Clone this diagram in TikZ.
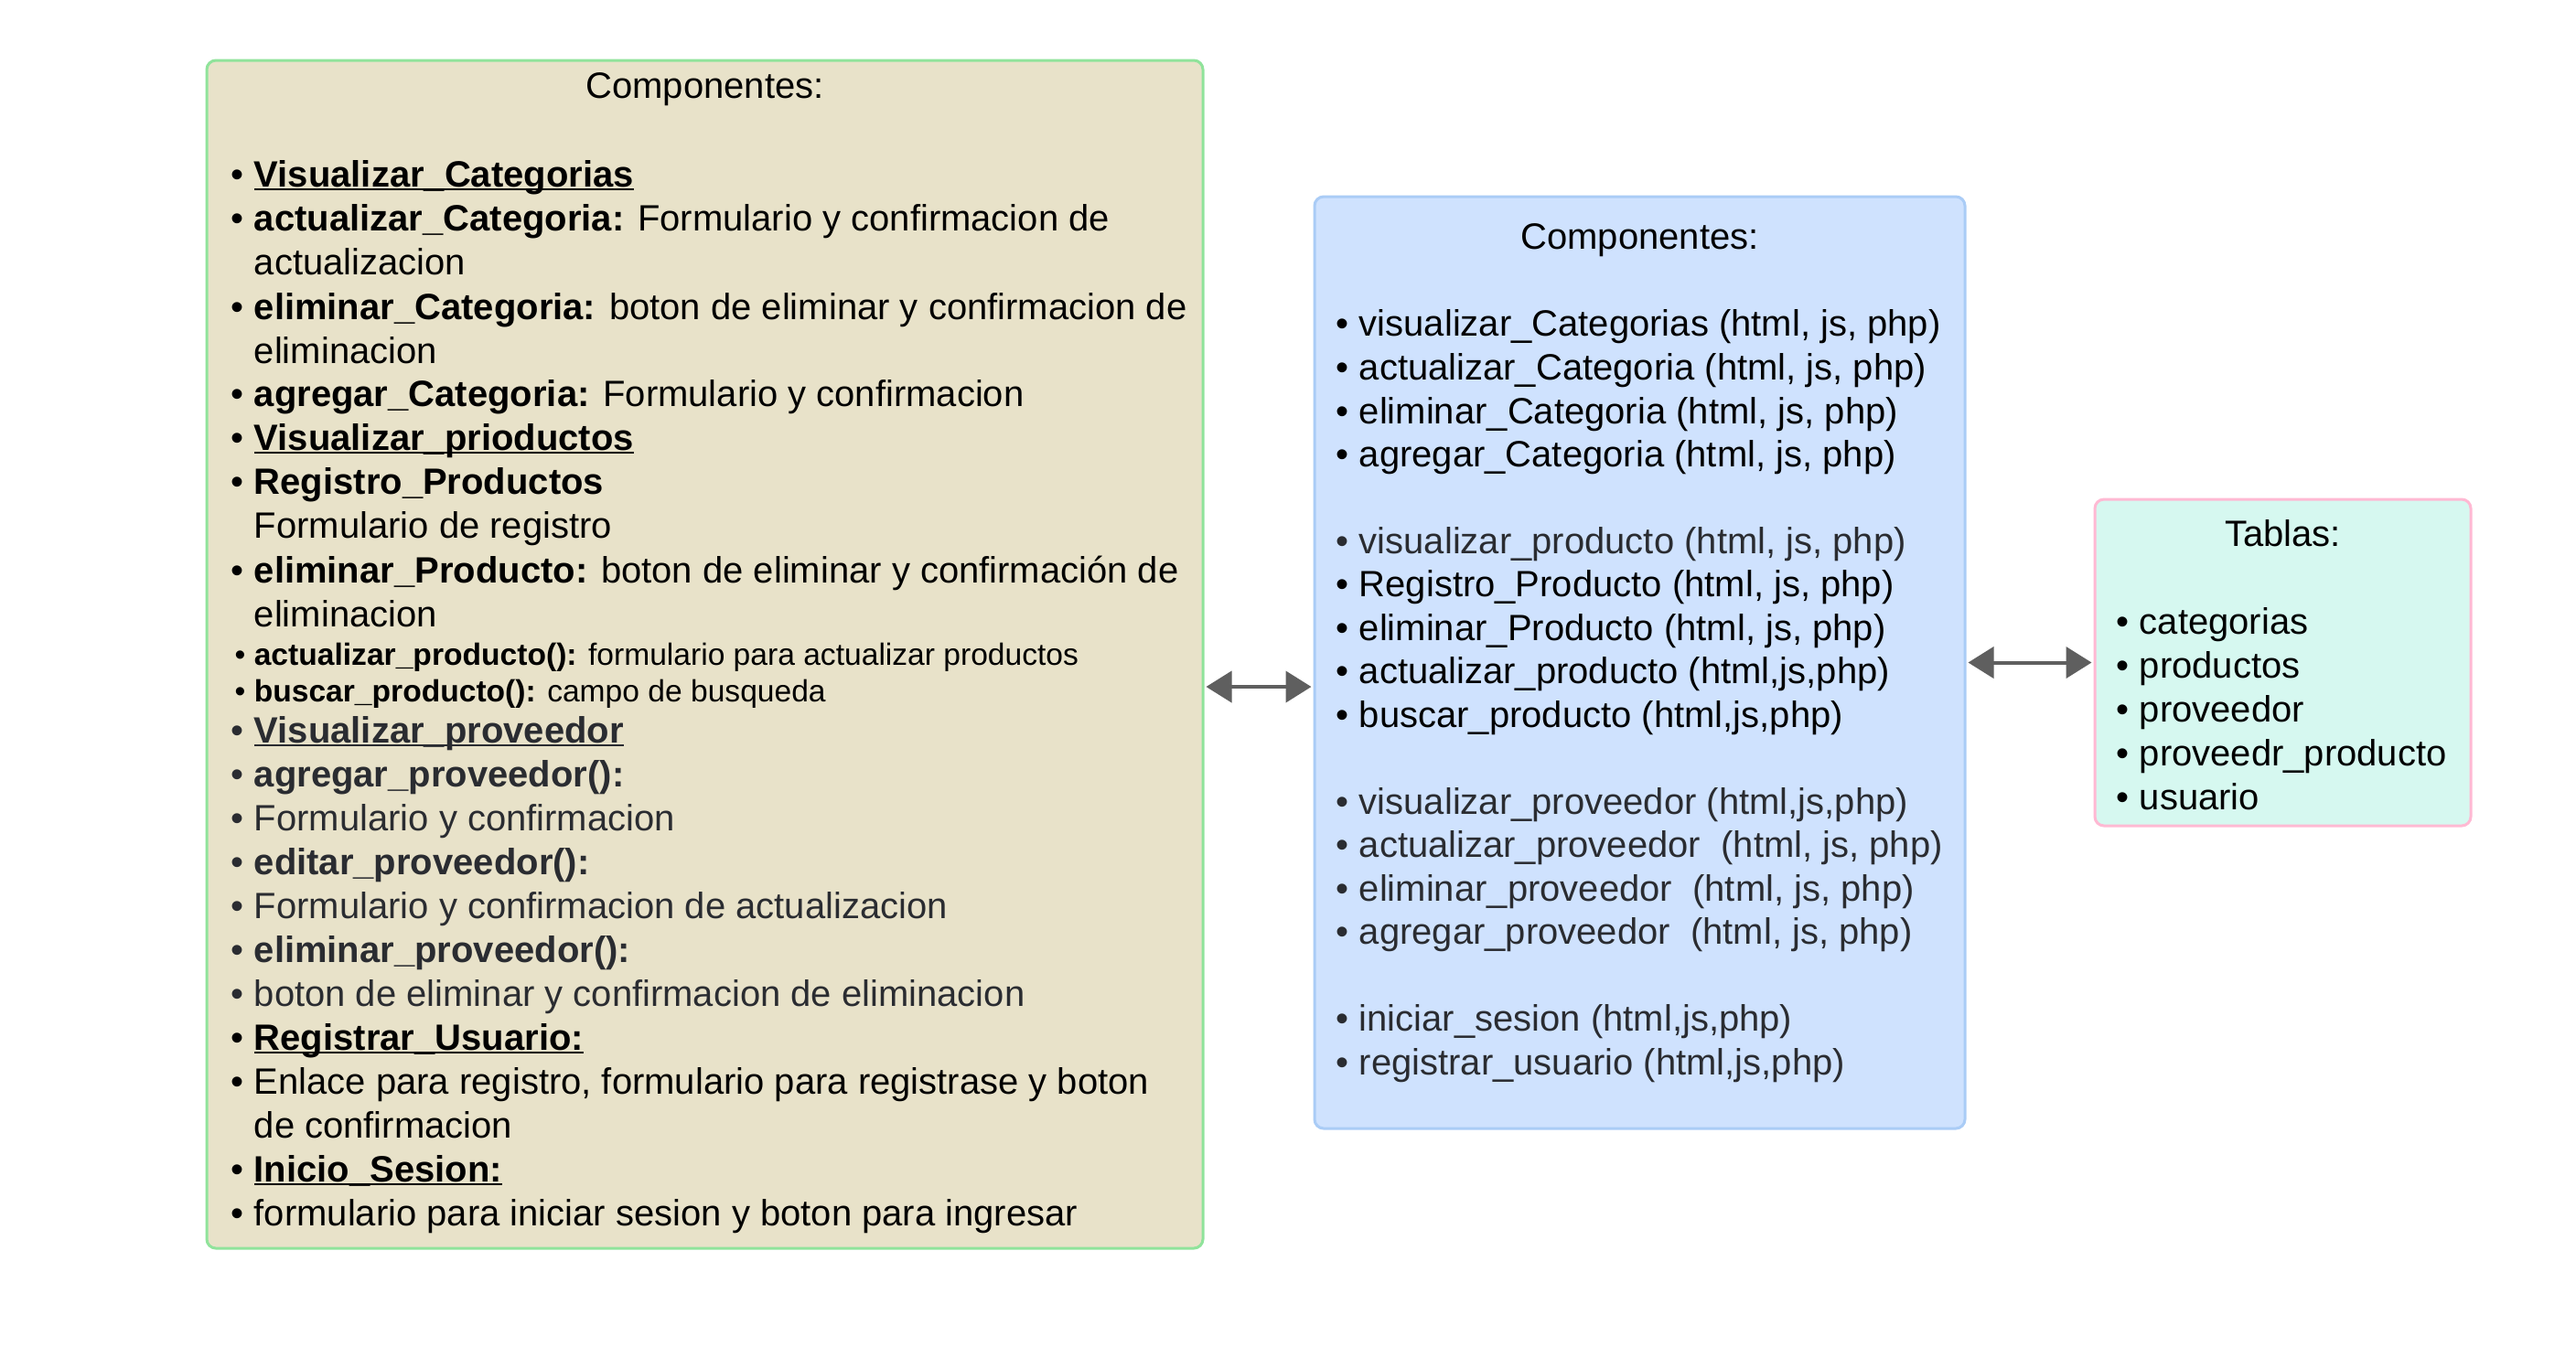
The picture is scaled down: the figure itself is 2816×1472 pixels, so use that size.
\documentclass[tikz,border=0pt]{standalone}
\usepackage{fontspec}
\setmainfont{Liberation Sans}
\usetikzlibrary{arrows.meta}
\definecolor{lfill}{HTML}{E8E2C9}
\definecolor{lline}{HTML}{90E39B}
\definecolor{mfill}{HTML}{CFE2FE}
\definecolor{mline}{HTML}{AACCF6}
\definecolor{rfill}{HTML}{D6F8F0}
\definecolor{rline}{HTML}{FFB9D3}
\definecolor{dk}{HTML}{2A2C31}
\definecolor{arr}{HTML}{5F5F5F}
\newsavebox\ulbox
\newcommand\myul[1]{\sbox\ulbox{#1}\rlap{\rule[-1pt]{\wd\ulbox}{0.55pt}}\usebox\ulbox}
\newcommand\bul{\llap{•\ }}
\tikzset{
  box/.style={draw, line width=0.75pt, rounded corners=2.5pt, inner sep=0pt},
  ln/.style={anchor=base west, inner sep=0pt, font=\fontsize{10}{12}\selectfont},
  sm/.style={anchor=base west, inner sep=0pt, font=\fontsize{8.4}{10}\selectfont},
  ttl/.style={anchor=base, inner sep=0pt, font=\fontsize{10}{12}\selectfont},
  gr/.style={text=dk},
  conn/.style={arr, line width=1pt, {Triangle[length=7pt,width=8.5pt]}-{Triangle[length=7pt,width=8.5pt]}}
}
\begin{document}
\begin{tikzpicture}[x=0.25pt,y=-0.25pt]
\useasboundingbox[fill=white] (0,0) rectangle (2816,1472);
% boxes
\node[box, draw=lline, fill=lfill, minimum width=272.25pt, minimum height=324.75pt] (L) at (770.5,715.5) {};
\node[box, draw=mline, fill=mfill, minimum width=177.75pt, minimum height=254.75pt] (M) at (1792.5,724.5) {};
\node[box, draw=rline, fill=rfill, minimum width=102.75pt, minimum height=89.25pt] (R) at (2495.5,724.5) {};
\begin{scope}[yshift=-0.5pt]
% left text
\node[ttl] (Lt) at (770.5,105) {Componentes:};
\node[ln] (L1) at (277,202) {\bul\myul{\textbf{Visualizar\_Categorias}}};
\node[ln] (L2) at (277,250) {\bul\textbf{actualizar\_Categoria:} Formulario y confirmacion de};
\node[ln] (L3) at (277,298) {actualizacion};
\node[ln] (L4) at (277,347) {\bul\textbf{eliminar\_Categoria:} boton de eliminar y confirmacion de};
\node[ln] (L5) at (277,395) {eliminacion};
\node[ln] (L6) at (277,442) {\bul\textbf{agregar\_Categoria:} Formulario y confirmacion};
\node[ln] (L7) at (277,490) {\bul\myul{\textbf{Visualizar\_prioductos}}};
\node[ln] (L8) at (277,538) {\bul\textbf{Registro\_Productos}};
\node[ln] (L9) at (277,586) {Formulario de registro};
\node[ln] (L10) at (277,635) {\bul\textbf{eliminar\_Producto:} boton de eliminar y confirmación de};
\node[ln] (L11) at (277,683) {eliminacion};
\node[sm] (L12) at (277,725) {\bul\textbf{actualizar\_producto():} formulario para actualizar productos};
\node[sm] (L13) at (277,765) {\bul\textbf{buscar\_producto():} campo de busqueda};
\node[ln,gr] (L14) at (277,810) {\bul\myul{\textbf{Visualizar\_proveedor}}};
\node[ln,gr] (L15) at (277,858) {\bul\textbf{agregar\_proveedor():}};
\node[ln,gr] (L16) at (277,906) {\bul Formulario y confirmacion};
\node[ln,gr] (L17) at (277,954) {\bul\textbf{editar\_proveedor():}};
\node[ln,gr] (L18) at (277,1002) {\bul Formulario y confirmacion de actualizacion};
\node[ln,gr] (L19) at (277,1050) {\bul\textbf{eliminar\_proveedor():}};
\node[ln,gr] (L20) at (277,1098) {\bul boton de eliminar y confirmacion de eliminacion};
\node[ln] (L21) at (277,1146) {\bul\myul{\textbf{Registrar\_Usuario:}}};
\node[ln] (L22) at (277,1194) {\bul Enlace para registro, formulario para registrase y boton};
\node[ln] (L23) at (277,1242) {de confirmacion};
\node[ln] (L24) at (277,1290) {\bul\myul{\textbf{Inicio\_Sesion:}}};
\node[ln] (L25) at (277,1338) {\bul formulario para iniciar sesion y boton para ingresar};
% middle text
\node[ttl] (Mt) at (1792.5,270) {Componentes:};
\node[ln] (M1) at (1485,365) {\bul visualizar\_Categorias (html, js, php)};
\node[ln] (M2) at (1485,413) {\bul actualizar\_Categoria (html, js, php)};
\node[ln] (M3) at (1485,461) {\bul eliminar\_Categoria (html, js, php)};
\node[ln] (M4) at (1485,508) {\bul agregar\_Categoria (html, js, php)};
\node[ln,gr] (M5) at (1485,603) {\bul visualizar\_producto (html, js, php)};
\node[ln] (M6) at (1485,650) {\bul Registro\_Producto (html, js, php)};
\node[ln] (M7) at (1485,698) {\bul eliminar\_Producto (html, js, php)};
\node[ln] (M8) at (1485,745) {\bul actualizar\_producto (html,js,php)};
\node[ln] (M9) at (1485,793) {\bul buscar\_producto (html,js,php)};
\node[ln,gr] (M10) at (1485,888) {\bul visualizar\_proveedor (html,js,php)};
\node[ln,gr] (M11) at (1485,935) {\bul actualizar\_proveedor\ \ (html, js, php)};
\node[ln,gr] (M12) at (1485,983) {\bul eliminar\_proveedor\ \ (html, js, php)};
\node[ln,gr] (M13) at (1485,1030) {\bul agregar\_proveedor\ \ (html, js, php)};
\node[ln,gr] (M14) at (1485,1125) {\bul iniciar\_sesion (html,js,php)};
\node[ln,gr] (M15) at (1485,1173) {\bul registrar\_usuario (html,js,php)};
% right text
\node[ttl] (Rt) at (2495.5,595) {Tablas:};
\node[ln] (R1) at (2338,691) {\bul categorias};
\node[ln] (R2) at (2338,739) {\bul productos};
\node[ln] (R3) at (2338,787) {\bul proveedor};
\node[ln] (R4) at (2338,835) {\bul proveedr\_producto};
\node[ln] (R5) at (2338,883) {\bul usuario};
\end{scope}
% connectors
\coordinate (a1) at (0,751);
\draw[conn] ([xshift=0.5pt]L.east |- a1) -- ([xshift=-0.5pt]M.west |- a1);
\draw[conn] ([xshift=0.5pt]M.east) -- ([xshift=-0.5pt]R.west);
\end{tikzpicture}
\end{document}
